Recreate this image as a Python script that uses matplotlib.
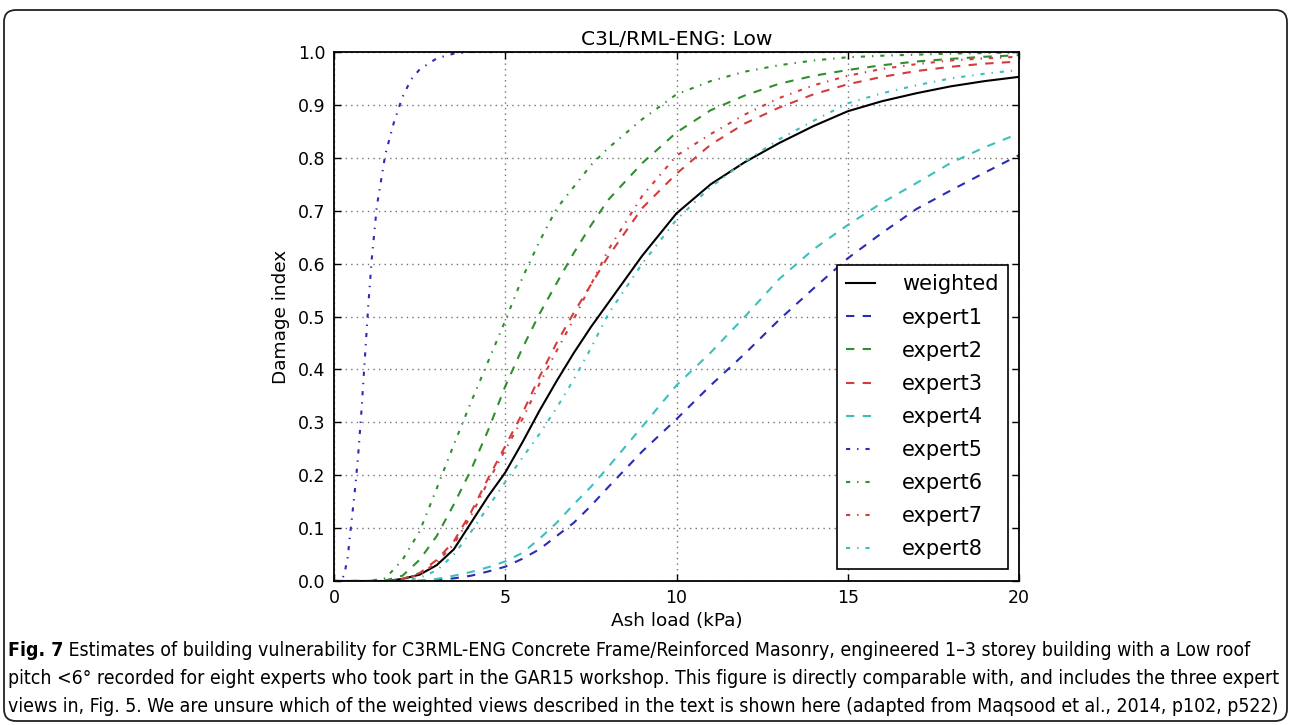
import matplotlib
matplotlib.use("Agg")
import matplotlib.pyplot as plt
from matplotlib.patches import FancyBboxPatch
from matplotlib.transforms import IdentityTransform

# ash load (kPa) where the curves were sampled
load = [0, 1, 1.5, 2, 2.5, 3, 3.5, 4, 4.5, 5, 5.5, 6, 6.5, 7, 7.5, 8,
        9, 10, 11, 12, 13, 14, 15, 16, 17, 18, 19, 20]

weighted = [0, 0, 0, 0.004, 0.012, 0.03, 0.06, 0.11, 0.16, 0.205, 0.262, 0.322, 0.378, 0.431, 0.48, 0.525,
            0.615, 0.695, 0.75, 0.792, 0.828, 0.86, 0.888, 0.907, 0.922, 0.935, 0.945, 0.953]
expert1 = [0, 0, 0, 0, 0, 0.002, 0.005, 0.01, 0.018, 0.027, 0.042, 0.06, 0.085, 0.11, 0.142, 0.177,
           0.245, 0.306, 0.37, 0.43, 0.494, 0.553, 0.61, 0.658, 0.703, 0.738, 0.772, 0.805]
expert2 = [0, 0, 0.001, 0.01, 0.04, 0.085, 0.145, 0.21, 0.285, 0.368, 0.44, 0.505, 0.563, 0.62, 0.672, 0.72,
           0.79, 0.848, 0.89, 0.918, 0.94, 0.955, 0.966, 0.975, 0.982, 0.987, 0.991, 0.994]
expert3 = [0, 0, 0, 0.004, 0.015, 0.04, 0.075, 0.13, 0.194, 0.255, 0.317, 0.386, 0.45, 0.507, 0.56, 0.613,
           0.705, 0.77, 0.825, 0.865, 0.895, 0.92, 0.939, 0.953, 0.964, 0.972, 0.978, 0.982]
expert4 = [0, 0, 0, 0, 0.001, 0.004, 0.01, 0.017, 0.026, 0.037, 0.053, 0.08, 0.11, 0.145, 0.178, 0.215,
           0.292, 0.37, 0.432, 0.5, 0.571, 0.627, 0.673, 0.715, 0.752, 0.79, 0.82, 0.846]
expert6 = [0, 0, 0.005, 0.04, 0.094, 0.175, 0.258, 0.338, 0.415, 0.492, 0.573, 0.642, 0.704, 0.745, 0.786, 0.818,
           0.873, 0.92, 0.945, 0.963, 0.975, 0.984, 0.99, 0.993, 0.995, 0.997, 0.998, 0.999]
expert7 = [0, 0, 0, 0.003, 0.012, 0.035, 0.07, 0.123, 0.188, 0.248, 0.306, 0.373, 0.435, 0.495, 0.56, 0.625,
           0.728, 0.804, 0.845, 0.882, 0.913, 0.937, 0.955, 0.968, 0.977, 0.984, 0.988, 0.991]
expert8 = [0, 0, 0, 0, 0.006, 0.02, 0.05, 0.093, 0.14, 0.187, 0.233, 0.278, 0.327, 0.381, 0.44, 0.504,
           0.6, 0.683, 0.745, 0.793, 0.835, 0.87, 0.903, 0.922, 0.937, 0.95, 0.959, 0.966]

# expert5 rises much earlier, so it has its own finer load samples
load5 = [0, 0.2, 0.3, 0.4, 0.5, 0.6, 0.7, 0.8, 0.9, 1.0, 1.1, 1.25, 1.5, 1.75, 2.0, 2.25, 2.5, 3.0, 3.5, 4.0, 5.0, 20]
expert5 = [0, 0, 0.012, 0.045, 0.106, 0.165, 0.233, 0.32, 0.42, 0.52, 0.607, 0.708, 0.807, 0.867, 0.915,
           0.948, 0.967, 0.988, 0.997, 1.0, 1.0, 1.0]

x_ticks = [0, 5, 10, 15, 20]
y_ticks = [0.0, 0.1, 0.2, 0.3, 0.4, 0.5, 0.6, 0.7, 0.8, 0.9, 1.0]

caption_bold = "Fig. 7"
caption_lines = [
    " Estimates of building vulnerability for C3RML-ENG Concrete Frame/Reinforced Masonry, engineered 1\u20133 storey building with a Low roof",
    "pitch <6\u00b0 recorded for eight experts who took part in the GAR15 workshop. This figure is directly comparable with, and includes the three expert",
    "views in, Fig. 5. We are unsure which of the weighted views described in the text is shown here (adapted from Maqsood et al., 2014, p102, p522)",
]

BLUE = "#2b2bb5"
GREEN = "#2f8f2f"
RED = "#d43c3c"
CYAN = "#3cc0bc"
DASH = (0, (6, 6))
DASHDOT = (0, (3, 5, 1, 5))

plt.rcParams["lines.scale_dashes"] = False
plt.rcParams["font.family"] = ["DejaVu Sans"]

W, H = 1292, 725
fig = plt.figure(figsize=(W / 100, H / 100), dpi=100)
ax = fig.add_axes([334 / W, (H - 581) / H, 685 / W, 529 / H])

series = [
    ("weighted", load, weighted, "k", "-"),
    ("expert1", load, expert1, BLUE, DASH),
    ("expert2", load, expert2, GREEN, DASH),
    ("expert3", load, expert3, RED, DASH),
    ("expert4", load, expert4, CYAN, DASH),
    ("expert5", load5, expert5, BLUE, DASHDOT),
    ("expert6", load, expert6, GREEN, DASHDOT),
    ("expert7", load, expert7, RED, DASHDOT),
    ("expert8", load, expert8, CYAN, DASHDOT),
]
for name, xs, ys, col, ls in series:
    ax.plot(xs, ys, color=col, linestyle=ls, linewidth=1.5, label=name)

ax.set_xlim(0, 20)
ax.set_ylim(0, 1)
ax.set_xticks(x_ticks)
ax.set_yticks(y_ticks)
ax.set_yticklabels(["%.1f" % v for v in y_ticks])
ax.grid(True, color="0.45", linestyle=(0, (1, 3)), linewidth=1.0)
ax.tick_params(direction="in", top=True, right=True, length=5, width=1,
               labelsize=12.5, pad=6)
for sp in ax.spines.values():
    sp.set_linewidth(1.3)

ax.set_title("C3L/RML-ENG: Low", fontsize=14.6, pad=5)
ax.set_xlabel("Ash load (kPa)", fontsize=13.3, labelpad=3)
ax.set_ylabel("Damage index", fontsize=13.3, labelpad=6)

leg = ax.legend(loc="lower right", bbox_to_anchor=(0.984, 0.023), borderaxespad=0,
                fontsize=15, fancybox=False, framealpha=1, edgecolor="k",
                handlelength=1.4, handletextpad=1.3, labelspacing=0.63, borderpad=0.45)
leg.get_frame().set_linewidth(1.2)

# rounded frame around the whole figure
frame = FancyBboxPatch((4, 4), W - 9, H - 14, boxstyle="round,pad=0,rounding_size=12",
                       transform=IdentityTransform(), facecolor="none",
                       edgecolor="#222222", linewidth=1.3)
fig.patches.append(frame)

# caption: condensed face, sized so the longest line spans the frame
cap_kw = dict(family=["DejaVu Sans"], fontstretch="condensed", va="center", ha="left")
cap_y = [651, 678, 706]
renderer = fig.canvas.get_renderer()
probe = fig.text(0, 0, caption_lines[1], fontsize=14.5, **cap_kw)
cap_size = 14.5 * 1268 / probe.get_window_extent(renderer).width
probe.remove()

tb = fig.text(8 / W, 1 - cap_y[0] / H, caption_bold, fontsize=cap_size, fontweight="bold", **cap_kw)
bold_w = tb.get_window_extent(renderer).width
fig.text((8 + bold_w) / W, 1 - cap_y[0] / H, caption_lines[0], fontsize=cap_size, **cap_kw)
for line, yy in zip(caption_lines[1:], cap_y[1:]):
    fig.text(8 / W, 1 - yy / H, line, fontsize=cap_size, **cap_kw)

fig.savefig("out.png", dpi=100)
